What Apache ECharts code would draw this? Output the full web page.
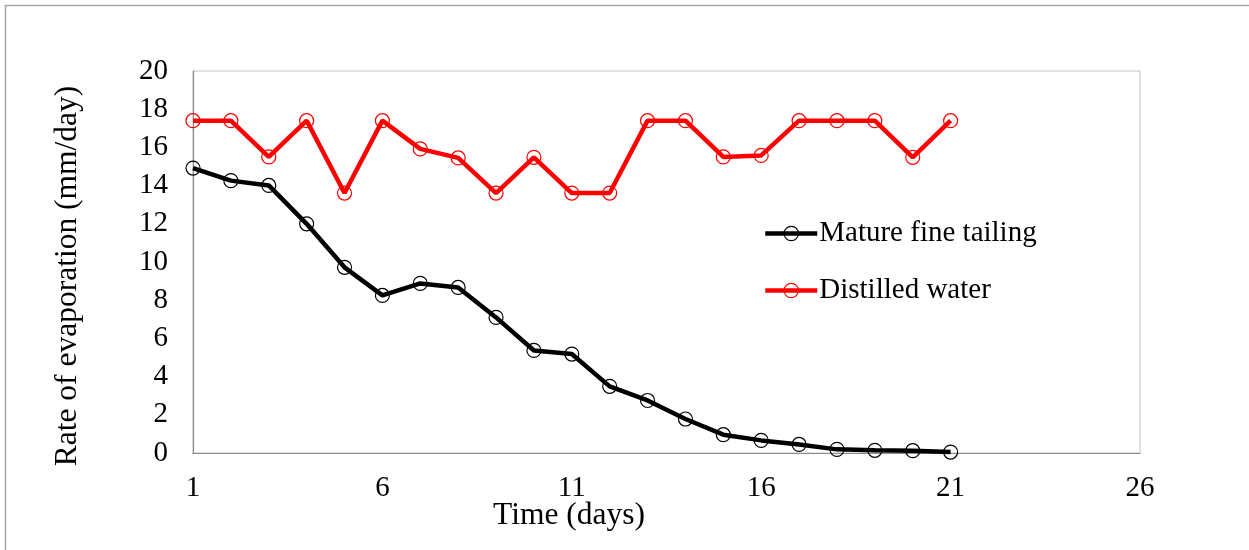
<!DOCTYPE html>
<html>
<head>
<meta charset="utf-8">
<script src="https://cdn.jsdelivr.net/npm/echarts@6/dist/echarts.min.js"></script>
<style>
  html, body { margin: 0; padding: 0; background: #fff; }
  #chart { width: 1249px; height: 550px; }
</style>
</head>
<body>
<div id="chart"></div>
<script>
// Evaporation rate per day (mm/day)
const days = [1, 2, 3, 4, 5, 6, 7, 8, 9, 10, 11, 12, 13, 14, 15, 16, 17, 18, 19, 20, 21];
const matureFineTailing = [14.92, 14.26, 14.01, 12.0, 9.72, 8.25, 8.88, 8.67, 7.10, 5.37, 5.18,
                           3.49, 2.75, 1.78, 0.96, 0.66, 0.45, 0.19, 0.14, 0.12, 0.05];
const distilledWater = [17.4, 17.4, 15.5, 17.4, 13.61, 17.4, 15.92, 15.45, 13.61, 15.48, 13.61,
                        13.61, 17.4, 17.4, 15.5, 15.58, 17.4, 17.4, 17.4, 15.48, 17.4];
const seriesNames = ['Mature fine tailing', 'Distilled water'];
const seriesColors = ['#000000', '#ff0000'];
const xTitle = 'Time (days)';
const yTitle = 'Rate of evaporation (mm/day)';

const FONT = '"Liberation Serif", "Times New Roman", serif';
const LINE_W = 4.5;

function pairs(ys) {
  return days.map((d, i) => [d, ys[i]]);
}

function lineSeries(name, ys, color) {
  return {
    name: name,
    type: 'line',
    data: pairs(ys),
    symbol: 'circle',
    symbolSize: 14,
    lineStyle: { color: color, width: LINE_W },
    itemStyle: { color: 'rgba(0,0,0,0)', borderColor: color, borderWidth: 1.2 },
    emphasis: { disabled: true },
    z: 3
  };
}

const chart = echarts.init(document.getElementById('chart'), null, { renderer: 'canvas' });
chart.setOption({
  animation: false,
  backgroundColor: '#fff',
  grid: {
    left: 193, right: 109, top: 71, bottom: 97,
    show: true, borderColor: '#c4c4c4', borderWidth: 1
  },
  legend: {
    orient: 'vertical',
    left: 758, top: 214,
    itemWidth: 52, itemHeight: 18,
    itemGap: 28,
    data: seriesNames.map((n, i) => ({
      name: n,
      itemStyle: { color: 'rgba(0,0,0,0)', borderColor: seriesColors[i], borderWidth: 1.2 },
      lineStyle: { color: seriesColors[i], width: LINE_W }
    })),
    textStyle: { fontFamily: FONT, fontSize: 29, color: '#000', padding: [0, 0, 0, -3] }
  },
  xAxis: {
    type: 'value',
    min: 1, max: 26, interval: 5,
    axisLine: { show: true, lineStyle: { color: '#8c8c8c', width: 1.2 } },
    axisTick: { show: false },
    splitLine: { show: false },
    axisLabel: { fontFamily: FONT, fontSize: 29, color: '#000', margin: 21 }
  },
  yAxis: {
    type: 'value',
    min: 0, max: 20, interval: 2,
    axisLine: { show: true, lineStyle: { color: '#8c8c8c', width: 1.2 } },
    axisTick: { show: false },
    splitLine: { show: false },
    axisLabel: { fontFamily: FONT, fontSize: 29, color: '#000', margin: 25 }
  },
  graphic: [
    {
      type: 'rect', silent: true, z: -1,
      shape: { x: 5.5, y: 5.5, width: 1260, height: 600 },
      style: { fill: 'none', stroke: '#a6a6a6', lineWidth: 1.5 }
    },
    {
      type: 'text', silent: true,
      left: 493, top: 500,
      style: { text: xTitle, fontFamily: FONT, fontSize: 31.5, fill: '#000' }
    },
    {
      type: 'text', silent: true,
      x: 68, y: 276, rotation: Math.PI / 2,
      style: { text: yTitle, fontFamily: FONT, fontSize: 31.5, fill: '#000', align: 'center', verticalAlign: 'middle' }
    }
  ],
  series: [
    lineSeries(seriesNames[0], matureFineTailing, seriesColors[0]),
    lineSeries(seriesNames[1], distilledWater, seriesColors[1])
  ]
});
</script>
</body>
</html>
